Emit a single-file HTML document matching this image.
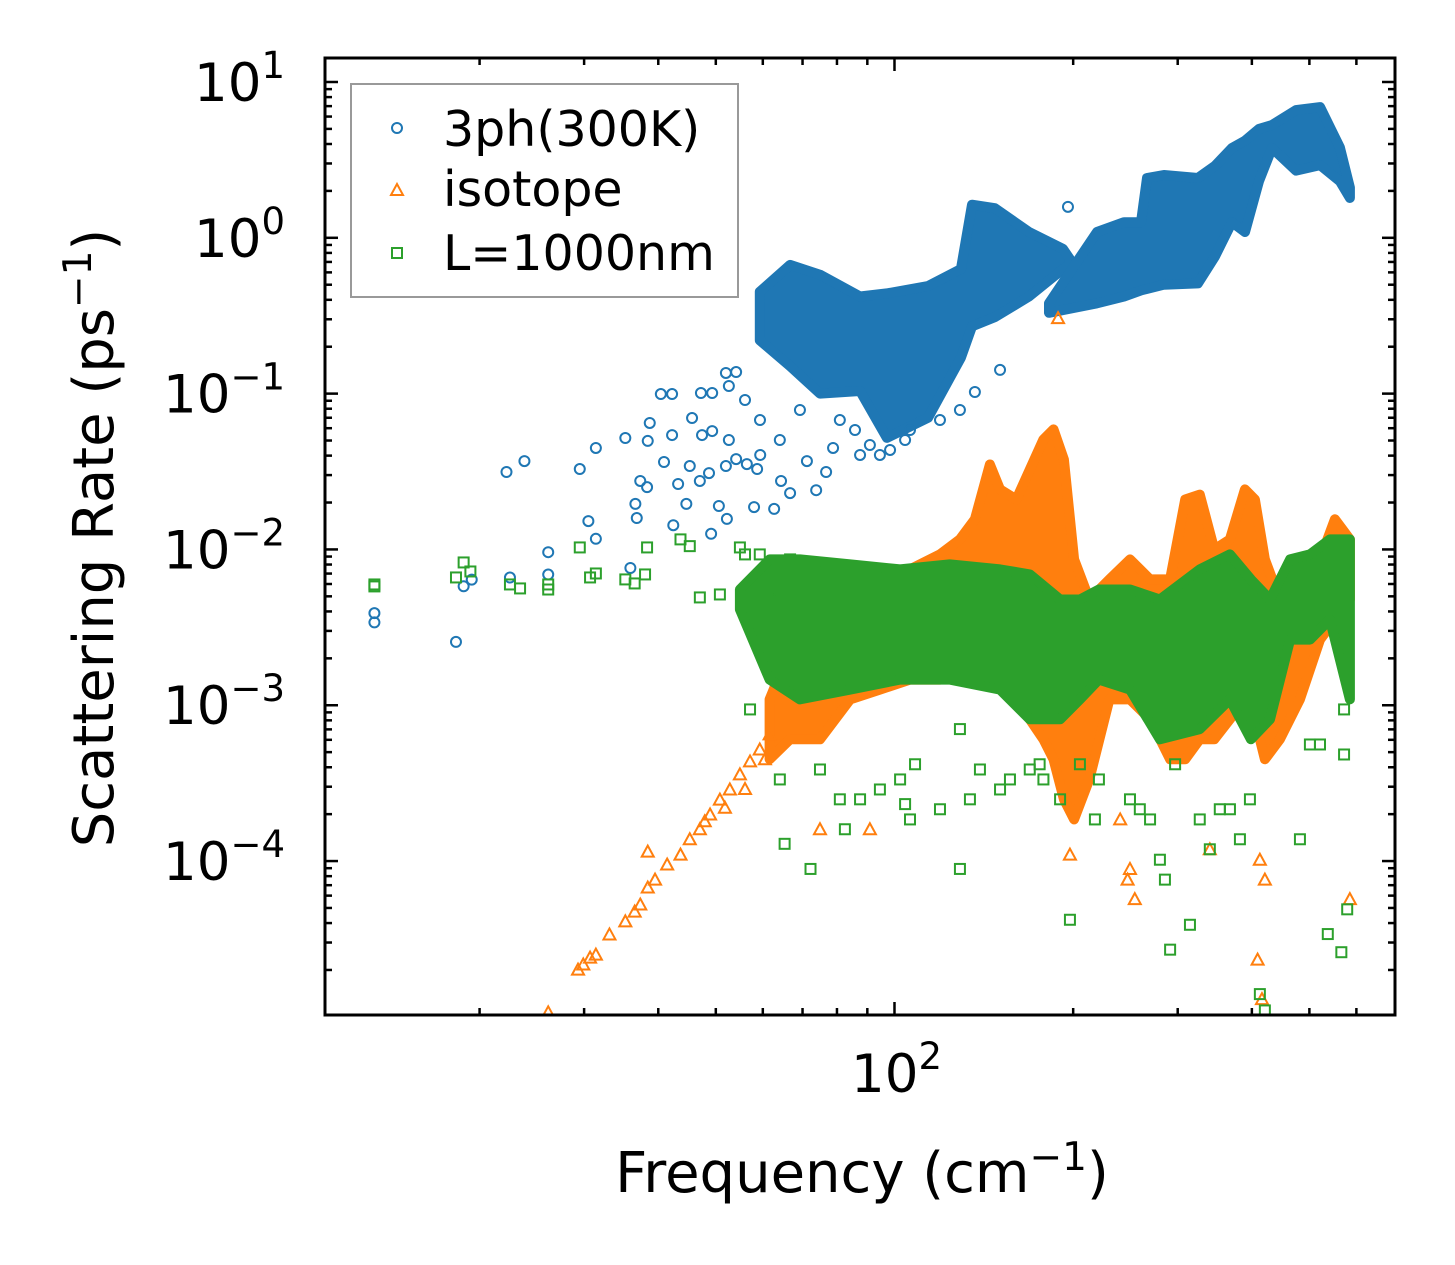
<!DOCTYPE html>
<html><head><meta charset="utf-8"><style>
body{margin:0;background:#fff}
svg{display:block}
text{font-family:"DejaVu Sans","Liberation Sans",sans-serif;fill:#000}
</style></head><body>
<svg id="chart" width="1455" height="1265" viewBox="0 0 1455 1265" xmlns="http://www.w3.org/2000/svg">
<defs><clipPath id="clip"><rect x="325" y="58" width="1070" height="957"/></clipPath></defs>
<rect x="0" y="0" width="1455" height="1265" fill="#fff"/>
<g id="bands" clip-path="url(#clip)"></g>
<g id="marks" clip-path="url(#clip)"></g>
<g id="axes"></g>
<text x="862" y="1192" font-size="56" text-anchor="middle">Frequency (cm<tspan dy="-22" font-size="39">−1</tspan><tspan dy="22">)</tspan></text>
<text transform="translate(113,538) rotate(-90)" font-size="56" text-anchor="middle">Scattering Rate (ps<tspan dy="-22" font-size="39">−1</tspan><tspan dy="22">)</tspan></text>
<g>
<rect x="351" y="84" width="387" height="213" fill="#fff" stroke="#999" stroke-width="2"/>
<circle cx="397" cy="128" r="5" fill="none" stroke="#1f77b4" stroke-width="2"/>
<text x="443" y="146" font-size="49">3ph(300K)</text>
<path d="M397,184 L403,195 L391,195 Z" fill="none" stroke="#ff7f0e" stroke-width="2"/>
<text x="443" y="206" font-size="49">isotope</text>
<rect x="392" y="248" width="10" height="10" fill="none" stroke="#2ca02c" stroke-width="2"/>
<text x="443" y="270" font-size="49">L=1000nm</text>
</g>
</svg>
<script>
// ---- data ----
const blueBandAFreq = [59.3, 66.7, 74.9, 87.5, 97.1, 113.9, 129.4, 135.1, 147.6, 168.5, 192.2, 197.5];
const blueBandAHigh = [0.45, 0.67, 0.58, 0.42, 0.44, 0.49, 0.63, 1.63, 1.55, 1.09, 0.85, 0.73];
const blueBandALow  = [0.22, 0.15, 0.10, 0.104, 0.052, 0.07, 0.17, 0.27, 0.31, 0.42, 0.63, 0.67];
const blueBandBFreq = [182.1, 219.4, 243.6, 260.2, 266.3, 284.4, 324.5, 346.7, 370.3, 389.5, 411.2, 432.5, 474.7, 521.2, 562.9, 585.2];
const blueBandBHigh = [0.38, 1.09, 1.26, 1.26, 2.42, 2.53, 2.42, 2.9, 3.77, 4.2, 5.0, 5.3, 6.6, 6.9, 3.8, 2.1];
const blueBandBLow  = [0.33, 0.38, 0.42, 0.46, 0.47, 0.5, 0.51, 0.76, 1.26, 1.09, 2.31, 3.77, 2.7, 2.93, 2.31, 1.8];
const blueFreq = [13.3,13.3,18.25,18.8,19.4,22.2,23.8,26.1,26.1,22.5,29.5,31.4,30.5,31.4,35.2,38.7,38.4,42.2,40.4,42.2,45.6,47.2,49.3,40.9,45.2,37.3,38.3,36.6,36.8,43.2,44.6,42.4,49.1,50.6,52.2,47.0,48.7,35.9,52.0,54.1,52.6,58.7,58.0,62.7,64.4,66.7,71.2,73.8,76.7,78.8,87.5,59.4,54.1,56.4,52.0,49.3,47.4,52.6,69.3,80.9,85.8,90.9,94.5,98.3,104.2,106.2,64.1,59.35,56.0,119.3,128.9,136.6,150.6,196];
const blueRate = [0.0039,0.0034,0.00255,0.0058,0.0064,0.0314,0.0369,0.0096,0.0069,0.0066,0.0328,0.0448,0.0152,0.0117,0.0519,0.0648,0.0497,0.0542,0.0994,0.0994,0.0697,0.1009,0.1009,0.0364,0.0343,0.0275,0.0251,0.0196,0.0159,0.0263,0.0196,0.0143,0.0126,0.019,0.0157,0.0275,0.0309,0.0076,0.1357,0.1376,0.1119,0.0328,0.0187,0.0182,0.0275,0.023,0.0369,0.024,0.0314,0.0448,0.0404,0.0404,0.038,0.0353,0.0343,0.0575,0.0542,0.0504,0.0785,0.0677,0.0584,0.0468,0.0404,0.0435,0.0504,0.0584,0.0504,0.0677,0.091,0.0677,0.0785,0.1024,0.142,1.58];
const orangeBandFreq = [61.6,66.7,74.9,84.2,94.5,106.2,119.3,128.9,136.6,144.8,150.6,160.4,169.0,178.2,185.3,192.9,200.7,212.9,230.2,249.3,269.5,291.3,308.8,326.8,345.8,367.4,389.4,404.8,420.7,446,482,521,552,585];
const orangeBandHigh = [0.00109,0.00228,0.00355,0.00477,0.00553,0.00744,0.00929,0.0116,0.0156,0.0351,0.0243,0.0209,0.0326,0.0508,0.0589,0.0378,0.00863,0.00477,0.00642,0.00863,0.00642,0.00642,0.0209,0.0225,0.01,0.0116,0.0243,0.0209,0.00863,0.00477,0.00477,0.00863,0.0156,0.0116];
const orangeBandLow = [0.00045,0.000605,0.000605,0.00109,0.00126,0.00146,0.00146,0.00264,0.00264,0.00477,0.00355,0.00109,0.000812,0.000605,0.00045,0.000249,0.000185,0.000334,0.00109,0.00109,0.000812,0.00045,0.00045,0.000605,0.000605,0.000812,0.00109,0.000812,0.00045,0.000605,0.00109,0.00264,0.00355,0.00477];
const orangeFreq = [26.1,29.3,29.9,30.7,31.4,33.1,35.2,36.5,37.3,38.4,39.5,41.4,43.6,45.2,47.0,48.9,50.8,52.8,54.9,57.1,59.3,61.6,38.4,47.9,51.8,56,60.5,249.3,247,339.8,412.6,420.7,409,416,254,197.5,74.9,90.9,240,188.6,585];
const orangeRate = [1.07e-5,2.01e-5,2.17e-5,2.4e-5,2.51e-5,3.38e-5,4.1e-5,4.74e-5,5.26e-5,6.76e-5,7.6e-5,9.5e-5,1.1e-4,1.38e-4,1.6e-4,1.99e-4,2.48e-4,2.88e-4,3.6e-4,4.36e-4,5.2e-4,6.5e-4,1.15e-4,1.8e-4,2.2e-4,2.9e-4,4.5e-4,8.9e-5,7.6e-5,1.19e-4,1.02e-4,7.6e-5,2.33e-5,1.3e-5,5.7e-5,1.1e-4,1.6e-4,1.6e-4,1.85e-4,0.305,5.7e-5];
const greenBandFreq = [54.9,61.6,69.3,84.2,102.2,123.9,150.6,169,190.1,205.3,221,249.3,280,326.8,367.4,398.5,429.2,463.9,501.1,541.5,585];
const greenBandHigh = [0.00553,0.00863,0.00863,0.00801,0.00744,0.00801,0.00744,0.00691,0.00477,0.00477,0.00553,0.00553,0.00477,0.00744,0.00929,0.00642,0.00477,0.00863,0.00929,0.0116,0.0116];
const greenBandLow = [0.00412,0.00146,0.00109,0.00126,0.00146,0.00146,0.00126,0.000812,0.000812,0.00109,0.00146,0.00126,0.000605,0.000703,0.00109,0.000605,0.000812,0.00264,0.00264,0.00355,0.00109];
const greenFreq = [13.3,13.3,18.25,18.8,19.3,22.5,23.4,26.1,26.1,29.5,30.7,31.4,35.2,36.5,38.0,38.3,43.6,45.2,47.0,50.8,54.9,56.0,59.3,61.6,64.1,66.7,57.1,64.1,65.3,72.2,74.9,80.9,82.5,87.5,94.5,102.2,104.2,106.2,108.3,119.3,128.9,134,139.3,150.6,156.5,169,178.2,190.1,197.5,205.3,217.6,221,249.3,259,269.5,280,285.5,291.3,314.6,326.8,339.8,353.2,381.9,397,412.6,420.7,482,501,521,572,572,537,566,579,367.4,297,128.9,175.6];
const greenRate = [0.00596,0.00579,0.00661,0.00825,0.00722,0.00596,0.00562,0.00596,0.00553,0.0103,0.00661,0.00701,0.00642,0.00605,0.00691,0.0103,0.0116,0.0105,0.00492,0.00514,0.0103,0.00929,0.00929,0.00477,0.00553,0.00863,0.00094,0.000334,0.000129,8.9e-5,0.000387,0.000249,0.00016,0.000249,0.000288,0.000334,0.000232,0.000185,0.000418,0.000215,8.9e-5,0.000249,0.000387,0.000288,0.000334,0.000387,0.000334,0.000249,4.2e-5,0.000418,0.000185,0.000334,0.000249,0.000215,0.000185,0.000102,7.6e-5,2.7e-5,3.9e-5,0.000185,0.000119,0.000215,0.000138,0.000249,1.4e-5,1.1e-5,0.000138,0.00056,0.00056,0.000483,0.00094,3.4e-5,2.6e-5,4.9e-5,0.000215,0.000418,0.000703,0.000418];
const yTickExps = [1, 0, -1, -2, -3, -4];
const xTickLabels = ["10", "2"];

// ---- axes ----
const X0 = 325, X1 = 1395, Y0 = 58, Y1 = 1015;
const xLogMin = 1.0406, xLogMax = 2.8432, yLogMin = -4.988, yLogMax = 1.154;
function xs(f){ return X0 + (Math.log10(f) - xLogMin) / (xLogMax - xLogMin) * (X1 - X0); }
function ys(r){ return Y1 - (Math.log10(r) - yLogMin) / (yLogMax - yLogMin) * (Y1 - Y0); }
const NS = "http://www.w3.org/2000/svg";
function mk(tag, attrs, parent){ const e = document.createElementNS(NS, tag); for (const k in attrs) e.setAttribute(k, attrs[k]); parent.appendChild(e); return e; }

const bands = document.getElementById('bands');
function band(freq, low, high, color, name){
  let pts = [];
  for (let i = 0; i < freq.length; i++) pts.push(xs(freq[i]).toFixed(1) + ',' + ys(high[i]).toFixed(1));
  for (let i = freq.length - 1; i >= 0; i--) pts.push(xs(freq[i]).toFixed(1) + ',' + ys(low[i]).toFixed(1));
  const p = mk('polygon', {points: pts.join(' '), fill: color, stroke: color, 'stroke-width': 10, 'stroke-linejoin': 'round'}, bands);
  
  
}
const marks = document.getElementById('marks');
function scatter(freq, rate, color, shape, name){
  const g = mk('g', {}, marks);
  
  
  for (let i = 0; i < freq.length; i++){
    const x = xs(freq[i]), y = ys(rate[i]);
    let e;
    if (shape === 'o') e = mk('circle', {cx: x, cy: y, r: 5, fill: 'none', stroke: color, 'stroke-width': 2}, g);
    else if (shape === '^') e = mk('path', {d: `M${x},${y-6} L${x+6},${y+5} L${x-6},${y+5} Z`, fill: 'none', stroke: color, 'stroke-width': 2}, g);
    else e = mk('rect', {x: x-5, y: y-5, width: 10, height: 10, fill: 'none', stroke: color, 'stroke-width': 2}, g);
    
    
  }
}
band(blueBandAFreq, blueBandALow, blueBandAHigh, '#1f77b4', 'band-3ph-low-freq');
band(blueBandBFreq, blueBandBLow, blueBandBHigh, '#1f77b4', 'band-3ph-high-freq');
scatter(blueFreq, blueRate, '#1f77b4', 'o', 'series-3ph');
band(orangeBandFreq, orangeBandLow, orangeBandHigh, '#ff7f0e', 'band-isotope');
scatter(orangeFreq, orangeRate, '#ff7f0e', '^', 'series-isotope');
band(greenBandFreq, greenBandLow, greenBandHigh, '#2ca02c', 'band-boundary');
scatter(greenFreq, greenRate, '#2ca02c', 's', 'series-boundary');

const axes = document.getElementById('axes');
for (let e = -5; e <= 1; e++){
  for (let m = 1; m <= 9; m++){
    const v = m * Math.pow(10, e);
    const lv = Math.log10(v);
    if (lv < yLogMin || lv > yLogMax) continue;
    const y = ys(v), L = m === 1 ? 13 : 7;
    const t1 = mk('line', {x1: X0, x2: X0 + L, y1: y, y2: y, stroke: '#000', 'stroke-width': 2.5}, axes);
    
    
    const t2 = mk('line', {x1: X1, x2: X1 - L, y1: y, y2: y, stroke: '#000', 'stroke-width': 2.5}, axes);
    
    
  }
}
yTickExps.forEach(e => {
  const y = ys(Math.pow(10, e));
  const t = mk('text', {x: 285, y: y + 19, 'font-size': 53, 'text-anchor': 'end'}, axes);
  
  
  t.innerHTML = '10<tspan dy="-23" font-size="37">' + (e < 0 ? '−' + (-e) : e) + '</tspan>';
});
for (let e = 1; e <= 2; e++){
  for (let m = 1; m <= 9; m++){
    const v = m * Math.pow(10, e), lv = Math.log10(v);
    if (lv < xLogMin || lv > xLogMax) continue;
    const x = xs(v), L = m === 1 ? 13 : 7;
    const t1 = mk('line', {x1: x, x2: x, y1: Y1, y2: Y1 - L, stroke: '#000', 'stroke-width': 2.5}, axes);
    
    
    const t2 = mk('line', {x1: x, x2: x, y1: Y0, y2: Y0 + L, stroke: '#000', 'stroke-width': 2.5}, axes);
    
    
  }
}
const xl = mk('text', {x: xs(100) + 2, y: 1092, 'font-size': 53, 'text-anchor': 'middle'}, axes);


xl.innerHTML = xTickLabels[0] + '<tspan dy="-23" font-size="37">' + xTickLabels[1] + '</tspan>';
const fr = mk('rect', {x: X0, y: Y0, width: X1 - X0, height: Y1 - Y0, fill: 'none', stroke: '#000', 'stroke-width': 3}, axes);


</script>
</body></html>
